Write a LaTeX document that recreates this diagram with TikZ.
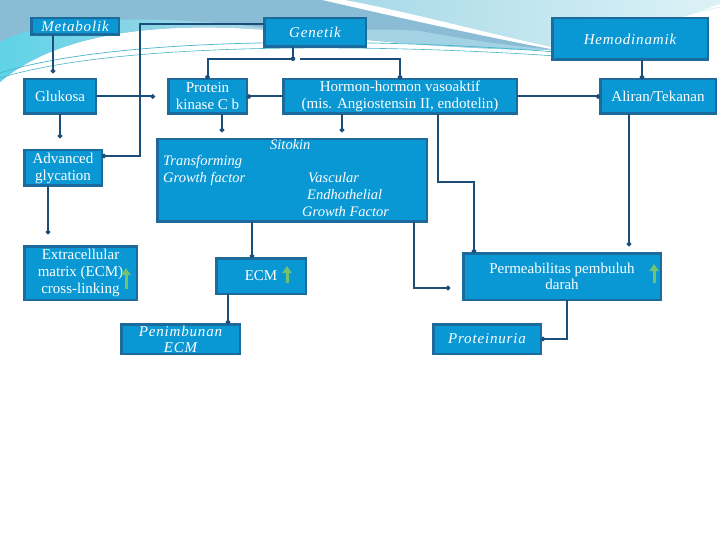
\documentclass[tikz,border=0pt]{standalone}
\usepackage{fontspec}
\setmainfont{Liberation Serif}
\newfontfamily\headfont{Liberation Serif}[LetterSpace=5.5]
\usetikzlibrary{arrows.meta,calc}
\definecolor{boxfill}{HTML}{0A98D4}
\definecolor{boxline}{HTML}{1D6B9C}
\definecolor{conncol}{HTML}{1B4E7B}
\definecolor{upgreen}{HTML}{72C270}
\definecolor{bgA}{HTML}{8ABCD5}
\definecolor{bgA2}{HTML}{A3D2E4}
\definecolor{bgB}{HTML}{5FD3E7}
\definecolor{bgC}{HTML}{A6D9E7}
\definecolor{bgD}{HTML}{DDF2F7}
\definecolor{thincol}{HTML}{45B6C9}
\begin{document}
\begin{tikzpicture}[x=1pt,y=-1pt,
  box/.style={draw=boxline, line width=2.5pt, fill=boxfill, text=white, inner sep=0pt, outer sep=0pt, align=center, font=\fontsize{15}{17}\selectfont},
  headbox/.style={box, font=\headfont\itshape\fontsize{15}{16}\selectfont},
  conn/.style={draw=conncol, line width=2pt},
  dot/.style={conn, -{Circle[length=4.5pt]}},
  uparrow/.style={draw=upgreen, line width=3pt, -{Triangle[length=7pt,width=9pt]}},
  sittext/.style={text=white, inner sep=0pt, anchor=base west, font=\itshape\fontsize{14.5}{17}\selectfont}
]
\useasboundingbox (0,0) rectangle (720,540);
\fill[white] (0,0) rectangle (720,540);
% background decoration
\fill[bgA]
  (0,0) -- (322,0) .. controls (400,18) and (490,38) .. (556,50)
  .. controls (470,50) and (380,42) .. (300,33)
  .. controls (200,22) and (70,22) .. (0,82) -- cycle;
\fill[bgA2]
  (420,31) .. controls (480,42) and (520,47) .. (556,50)
  .. controls (470,50) and (380,42) .. (300,33)
  .. controls (340,30) and (380,28) .. (420,31) -- cycle;
\shade[left color=bgB, right color=bgA!60!white]
  (0,82) .. controls (70,22) and (200,22) .. (300,33)
  .. controls (200,17) and (60,10) .. (0,42) -- cycle;
\shade[left color=bgC, right color=bgD]
  (345,0) -- (720,0) -- (720,4) .. controls (660,25) and (610,45) .. (556,48)
  .. controls (490,34) and (410,12) .. (345,0) -- cycle;
\draw[thincol, line width=0.7pt] (0,73) .. controls (120,35) and (380,38) .. (556,52);
\draw[thincol, line width=0.6pt] (0,78) .. controls (120,41) and (380,44) .. (556,56);
\draw[white!55!bgC, line width=0.7pt] (650,20) .. controls (680,12) .. (720,0);
\draw[white!55!bgC, line width=0.7pt] (668,19) -- (720,7);

% boxes
\node[headbox, minimum width=87.5pt, minimum height=16.5pt] (met) at (75,26.5) {Metabolik};
\node[headbox, minimum width=101.5pt, minimum height=28.5pt] (gen) at (315,32.5) {Genetik};
\node[headbox, minimum width=155.5pt, minimum height=41.5pt] (hem) at (630,39) {Hemodinamik};
\node[box, minimum width=71.5pt, minimum height=34.5pt] (glu) at (60,96.5) {Glukosa};
\node[box, minimum width=78.5pt, minimum height=34.5pt] (pkc) at (207.5,96.5) {Protein\\kinase C b};
\node[box, minimum width=233.5pt, minimum height=34.5pt] (hor) at (400,96.5) {Hormon-hormon vasoaktif\\(mis. Angiostensin II, endotelin)};
\node[box, minimum width=115.5pt, minimum height=34.5pt] (ali) at (658,96.5) {Aliran/Tekanan};
\node[box, minimum width=77.5pt, minimum height=35.5pt] (adv) at (63,168) {Advanced\\glycation};
\node[box, minimum width=269.5pt, minimum height=82.5pt] (sit) at (292,180.5) {};
\node[sittext] (sitA) at (270,150) {Sitokin};
\node[sittext] (sitB) at (163,166) {Transforming};
\node[sittext] (sitC) at (163,183) {Growth factor};
\node[sittext] (sitD) at (308,183) {Vascular};
\node[sittext] (sitE) at (307,200) {Endhothelial};
\node[sittext] (sitF) at (302,217) {Growth Factor};
\node[box, minimum width=112.5pt, minimum height=53.5pt] (ecmx) at (80.5,273) {Extracellular\\matrix (ECM)\\cross-linking};
\node[box, minimum width=89.5pt, minimum height=35.5pt] (ecm) at (261,276) {ECM};
\node[headbox, minimum width=118.5pt, minimum height=29.5pt] (pen) at (180.5,339) {Penimbunan\\ECM};
\node[box, minimum width=197.5pt, minimum height=46.5pt, font=\fontsize{15}{16}\selectfont] (per) at (562,276.5) {Permeabilitas pembuluh\\darah};
\node[headbox, minimum width=107.5pt, minimum height=29.5pt] (pro) at (487,339) {Proteinuria};
\coordinate (gluend) at (155,96.5);

% connectors
\draw[dot, shorten >=6pt] ([xshift=-22pt]met.south) -- ([xshift=-7pt]glu.north);
\draw[dot] ([yshift=8.5pt]gen.west) -- ++(-124,0) |- ([yshift=12pt]adv.east);
\draw[dot] ([xshift=-22pt]gen.south) -- ([xshift=-22pt,yshift=-12pt]gen.south) -| (pkc.north);
\draw[dot] ([xshift=-15pt,yshift=-12pt]gen.south) -| (hor.north);
\fill[conncol] ([xshift=-22pt,yshift=-12pt]gen.south) circle (2.3pt);
\draw[dot] (glu.east) -- (gluend);
\draw[dot] (hor.west) -- (pkc.east);
\draw[dot] (hor.east) -- (ali.west);
\draw[dot] ([xshift=12pt]hem.south) -- ([xshift=-16pt]ali.north);
\draw[dot, shorten >=12pt] (glu.south) -- ([xshift=-3pt]adv.north);
\draw[dot, shorten >=7pt] ([xshift=14.5pt]pkc.south) -- ([xshift=-70pt]sit.north);
\draw[dot, shorten >=7pt] ([xshift=-58pt]hor.south) -- ([xshift=50pt]sit.north);
\draw[dot] ([xshift=38pt]hor.south) -- ([xshift=38pt,yshift=-68pt]hor.south) -| ([xshift=-88pt]per.north);
\draw[dot, shorten >=7pt] ([xshift=-29pt]ali.south) -- ([xshift=67pt]per.north);
\draw[dot, shorten >=12pt] ([xshift=-15pt]adv.south) -- ([xshift=-32.5pt]ecmx.north);
\draw[dot] ([xshift=-40pt]sit.south) -- ([xshift=-9pt]ecm.north);
\draw[dot, shorten >=13pt] ([xshift=122pt]sit.south) |- ([yshift=-11.5pt]per.west);
\draw[dot] ([xshift=-33pt]ecm.south) -- ([xshift=47.5pt]pen.north);
\draw[dot] ([xshift=5pt]per.south) |- (pro.east);

% green up arrows
\draw[uparrow] ([xshift=45.5pt,yshift=-16pt]ecmx.center) -- ([xshift=45.5pt,yshift=5pt]ecmx.center);
\draw[uparrow] ([xshift=26pt,yshift=-7pt]ecm.center) -- ([xshift=26pt,yshift=10pt]ecm.center);
\draw[uparrow] ([xshift=92pt,yshift=-6.5pt]per.center) -- ([xshift=92pt,yshift=12.5pt]per.center);
\end{tikzpicture}
\end{document}
